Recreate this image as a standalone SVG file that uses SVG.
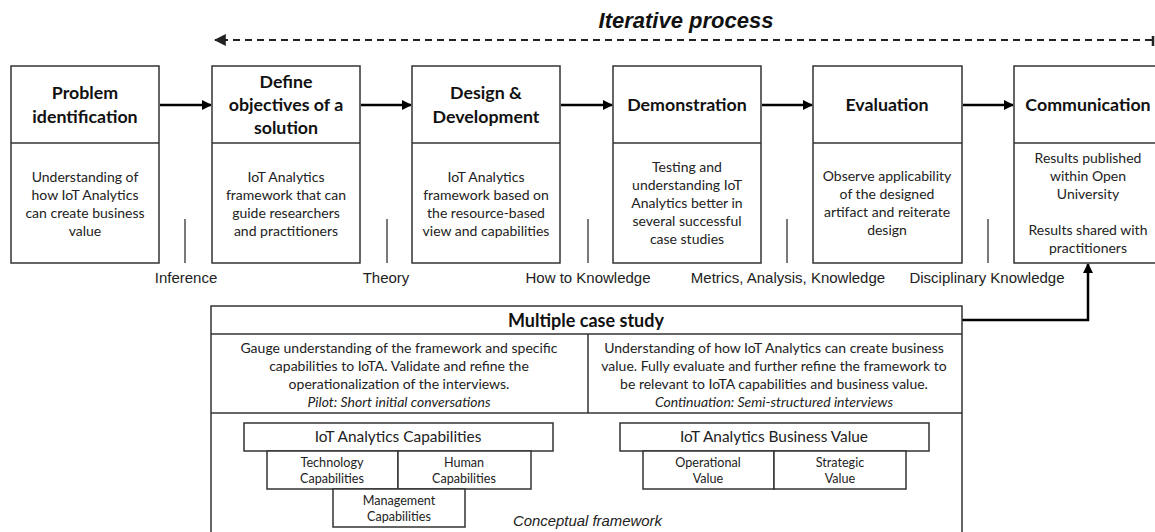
<svg xmlns="http://www.w3.org/2000/svg" width="1155" height="532" viewBox="0 0 1155 532">
  <style>
    .box { fill: #fff; stroke: #333; stroke-width: 1.5; }
    .sep { stroke: #333; stroke-width: 1.5; }
    .head { font-family: Lato, "Open Sans", sans-serif; font-weight: bold; font-size: 17.8px; fill: #111; text-anchor: middle; }
    .body { font-family: Lato, "Open Sans", sans-serif; font-size: 14px; fill: #222; text-anchor: middle; }
    .small { font-family: Lato, "Open Sans", sans-serif; font-size: 12.6px; fill: #222; text-anchor: middle; }
    .mid { font-family: Lato, "Open Sans", sans-serif; font-size: 15.4px; fill: #222; text-anchor: middle; }
    .lbl { font-family: "Liberation Sans", Arial, sans-serif; font-size: 15px; fill: #222; text-anchor: middle; }
    .it { font-style: italic; }
    .flow { stroke: #000; stroke-width: 2.5; fill: none; marker-end: url(#arr); }
    .tick { stroke: #333; stroke-width: 1.3; }
  </style>
  <defs>
    <marker id="arr" viewBox="0 0 10 10" refX="9" refY="5" markerWidth="4" markerHeight="4" orient="auto" markerUnits="strokeWidth">
      <path d="M0,0 L10,5 L0,10 z" fill="#000"/>
    </marker>
    <marker id="arrd" viewBox="0 0 10 10" refX="9" refY="5" markerWidth="6" markerHeight="6" orient="auto" markerUnits="strokeWidth">
      <path d="M0,0 L10,5 L0,10 z" fill="#222"/>
    </marker>
  </defs>

  <rect width="1155" height="532" fill="#fff"/>

  <!-- iteration loop -->
  <text x="686" y="28" font-family="'Liberation Sans', Arial, sans-serif" font-size="22" font-weight="bold" font-style="italic" fill="#111" text-anchor="middle">Iterative process</text>

  <!-- connectors -->
  <g id="connectors">
    <line x1="1152" y1="40" x2="215" y2="40" stroke="#222" stroke-width="2" stroke-dasharray="7,5" marker-end="url(#arrd)"/>
    <line x1="1153" y1="36" x2="1153" y2="46" stroke="#222" stroke-width="2.5"/>
    <line class="flow" x1="160" y1="105" x2="211" y2="105"/>
    <line class="flow" x1="361" y1="105" x2="411" y2="105"/>
    <line class="flow" x1="561" y1="105" x2="612" y2="105"/>
    <line class="flow" x1="762" y1="105" x2="812" y2="105"/>
    <line class="flow" x1="963" y1="105" x2="1013" y2="105"/>
    <polyline class="flow" points="962,320 1088,320 1088,264"/>
    <line class="flow" x1="553" y1="437" x2="619" y2="437"/>
  </g>

  <!-- knowledge outputs between steps -->
  <g id="outputs">
    <line class="tick" x1="185" y1="219" x2="185" y2="263"/>
    <line class="tick" x1="387" y1="219" x2="387" y2="263"/>
    <line class="tick" x1="588" y1="219" x2="588" y2="263"/>
    <line class="tick" x1="787" y1="219" x2="787" y2="263"/>
    <line class="tick" x1="988" y1="219" x2="988" y2="263"/>
    <text class="lbl" x="186" y="283">Inference</text>
    <text class="lbl" x="386" y="283">Theory</text>
    <text class="lbl" x="588" y="283">How to Knowledge</text>
    <text class="lbl" x="788" y="283">Metrics, Analysis, Knowledge</text>
    <text class="lbl" x="987" y="283">Disciplinary Knowledge</text>
  </g>

  <g id="problem-identification">
    <rect class="box" x="11" y="66" width="148" height="197"/>
    <line class="sep" x1="11" y1="143" x2="159" y2="143"/>
    <text class="head" x="85" y="99">Problem</text>
    <text class="head" x="85" y="123">identification</text>
    <text class="body" x="85" y="182">Understanding of</text>
    <text class="body" x="85" y="200">how IoT Analytics</text>
    <text class="body" x="85" y="218">can create business</text>
    <text class="body" x="85" y="236">value</text>
  </g>

  <g id="define-objectives">
    <rect class="box" x="212" y="66" width="148" height="197"/>
    <line class="sep" x1="212" y1="143" x2="360" y2="143"/>
    <text class="head" x="286" y="88">Define</text>
    <text class="head" x="286" y="111">objectives of a</text>
    <text class="head" x="286" y="134">solution</text>
    <text class="body" x="286" y="182">IoT Analytics</text>
    <text class="body" x="286" y="200">framework that can</text>
    <text class="body" x="286" y="218">guide researchers</text>
    <text class="body" x="286" y="236">and practitioners</text>
  </g>

  <g id="design-development">
    <rect class="box" x="412" y="66" width="148" height="197"/>
    <line class="sep" x1="412" y1="143" x2="560" y2="143"/>
    <text class="head" x="486" y="99">Design &amp;</text>
    <text class="head" x="486" y="123">Development</text>
    <text class="body" x="486" y="182">IoT Analytics</text>
    <text class="body" x="486" y="200">framework based on</text>
    <text class="body" x="486" y="218">the resource-based</text>
    <text class="body" x="486" y="236">view and capabilities</text>
  </g>

  <g id="demonstration">
    <rect class="box" x="613" y="66" width="148" height="197"/>
    <line class="sep" x1="613" y1="143" x2="761" y2="143"/>
    <text class="head" x="687" y="111">Demonstration</text>
    <text class="body" x="687" y="172">Testing and</text>
    <text class="body" x="687" y="190">understanding IoT</text>
    <text class="body" x="687" y="208">Analytics better in</text>
    <text class="body" x="687" y="226">several successful</text>
    <text class="body" x="687" y="244">case studies</text>
  </g>

  <g id="evaluation">
    <rect class="box" x="813" y="66" width="149" height="197"/>
    <line class="sep" x1="813" y1="143" x2="962" y2="143"/>
    <text class="head" x="887" y="111">Evaluation</text>
    <text class="body" x="887" y="181">Observe applicability</text>
    <text class="body" x="887" y="199">of the designed</text>
    <text class="body" x="887" y="217">artifact and reiterate</text>
    <text class="body" x="887" y="235">design</text>
  </g>

  <g id="communication">
    <rect class="box" x="1014" y="66" width="150" height="197"/>
    <line class="sep" x1="1014" y1="143" x2="1164" y2="143"/>
    <text class="head" x="1088" y="111">Communication</text>
    <text class="body" x="1088" y="163">Results published</text>
    <text class="body" x="1088" y="181">within Open</text>
    <text class="body" x="1088" y="199">University</text>
    <text class="body" x="1088" y="235">Results shared with</text>
    <text class="body" x="1088" y="253">practitioners</text>
  </g>

  <g id="multiple-case-study">
    <rect class="box" x="211" y="306" width="751" height="240"/>
    <line class="sep" x1="211" y1="334" x2="962" y2="334"/>
    <line class="sep" x1="211" y1="413" x2="962" y2="413"/>
    <line class="sep" x1="588" y1="334" x2="588" y2="413"/>
    <text class="head" x="586" y="327" style="font-size:18px">Multiple case study</text>
    <text class="body" x="399" y="353">Gauge understanding of the framework and specific</text>
    <text class="body" x="399" y="371">capabilities to IoTA. Validate and refine the</text>
    <text class="body" x="399" y="389">operationalization of the interviews.</text>
    <text class="body it" x="399" y="407">Pilot: Short initial conversations</text>
    <text class="body" x="774" y="353">Understanding of how IoT Analytics can create business</text>
    <text class="body" x="774" y="371">value. Fully evaluate and further refine the framework to</text>
    <text class="body" x="774" y="389">be relevant to IoTA capabilities and business value.</text>
    <text class="body it" x="774" y="407">Continuation: Semi-structured interviews</text>
    <text x="513" y="526" font-family="'Liberation Sans', Arial, sans-serif" font-size="14.9" font-style="italic" fill="#222">Conceptual framework</text>
  </g>

  <g id="iota-capabilities">
    <rect class="box" x="244" y="423" width="309" height="28"/>
    <text class="mid" x="398" y="442">IoT Analytics Capabilities</text>
  </g>
  <g id="technology-capabilities">
    <rect class="box" x="267" y="451" width="131" height="38"/>
    <text class="small" x="332" y="467">Technology</text>
    <text class="small" x="332" y="483">Capabilities</text>
  </g>
  <g id="human-capabilities">
    <rect class="box" x="398" y="451" width="133" height="38"/>
    <text class="small" x="464" y="467">Human</text>
    <text class="small" x="464" y="483">Capabilities</text>
  </g>
  <g id="management-capabilities">
    <rect class="box" x="333" y="489" width="132" height="38"/>
    <text class="small" x="399" y="505">Management</text>
    <text class="small" x="399" y="521">Capabilities</text>
  </g>

  <g id="iota-business-value">
    <rect class="box" x="620" y="423" width="309" height="28"/>
    <text class="mid" x="774" y="442">IoT Analytics Business Value</text>
  </g>
  <g id="operational-value">
    <rect class="box" x="643" y="451" width="131" height="38"/>
    <text class="small" x="708" y="467">Operational</text>
    <text class="small" x="708" y="483">Value</text>
  </g>
  <g id="strategic-value">
    <rect class="box" x="774" y="451" width="132" height="38"/>
    <text class="small" x="840" y="467">Strategic</text>
    <text class="small" x="840" y="483">Value</text>
  </g>
</svg>
